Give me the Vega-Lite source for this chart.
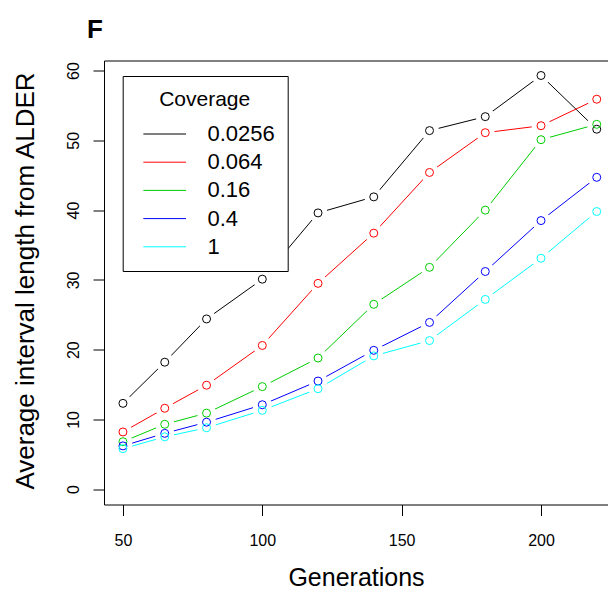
{
  "$schema": "https://vega.github.io/schema/vega-lite/v6.json",
  "autosize": {"type": "none"},
  "padding": {"left": 104, "top": 60.5, "right": 0, "bottom": 85.5},
  "width": 504,
  "height": 444,
  "background": "white",
  "title": {"text": "F", "anchor": "start", "frame": "group", "fontSize": 26, "fontWeight": "bold", "font": "Liberation Sans", "color": "black", "baseline": "alphabetic", "offset": 21.5, "dx": -17, "dy": 25},
  "config": {
    "font": "Liberation Sans",
    "view": {"stroke": null},
    "axis": {"grid": false, "domainColor": "black", "tickColor": "black", "labelColor": "black", "titleColor": "black", "labelFont": "Liberation Sans", "titleFont": "Liberation Sans", "titleFontWeight": "normal", "domainWidth": 1, "tickWidth": 1}
  },
  "data": {"values": [
    {"gen": 50, "coverage": "0.0256", "len": 12.3},
    {"gen": 65, "coverage": "0.0256", "len": 18.2},
    {"gen": 80, "coverage": "0.0256", "len": 24.4},
    {"gen": 100, "coverage": "0.0256", "len": 30.1},
    {"gen": 120, "coverage": "0.0256", "len": 39.6},
    {"gen": 140, "coverage": "0.0256", "len": 41.9},
    {"gen": 160, "coverage": "0.0256", "len": 51.4},
    {"gen": 180, "coverage": "0.0256", "len": 53.4},
    {"gen": 200, "coverage": "0.0256", "len": 59.3},
    {"gen": 220, "coverage": "0.0256", "len": 51.6},
    {"gen": 50, "coverage": "0.064", "len": 8.2},
    {"gen": 65, "coverage": "0.064", "len": 11.6},
    {"gen": 80, "coverage": "0.064", "len": 14.9},
    {"gen": 100, "coverage": "0.064", "len": 20.6},
    {"gen": 120, "coverage": "0.064", "len": 29.5},
    {"gen": 140, "coverage": "0.064", "len": 36.7},
    {"gen": 160, "coverage": "0.064", "len": 45.4},
    {"gen": 180, "coverage": "0.064", "len": 51.1},
    {"gen": 200, "coverage": "0.064", "len": 52.1},
    {"gen": 220, "coverage": "0.064", "len": 55.9},
    {"gen": 50, "coverage": "0.16", "len": 6.8},
    {"gen": 65, "coverage": "0.16", "len": 9.3},
    {"gen": 80, "coverage": "0.16", "len": 10.9},
    {"gen": 100, "coverage": "0.16", "len": 14.7},
    {"gen": 120, "coverage": "0.16", "len": 18.8},
    {"gen": 140, "coverage": "0.16", "len": 26.5},
    {"gen": 160, "coverage": "0.16", "len": 31.8},
    {"gen": 180, "coverage": "0.16", "len": 40.0},
    {"gen": 200, "coverage": "0.16", "len": 50.1},
    {"gen": 220, "coverage": "0.16", "len": 52.3},
    {"gen": 50, "coverage": "0.4", "len": 6.2},
    {"gen": 65, "coverage": "0.4", "len": 8.0},
    {"gen": 80, "coverage": "0.4", "len": 9.6},
    {"gen": 100, "coverage": "0.4", "len": 12.1},
    {"gen": 120, "coverage": "0.4", "len": 15.5},
    {"gen": 140, "coverage": "0.4", "len": 19.9},
    {"gen": 160, "coverage": "0.4", "len": 23.9},
    {"gen": 180, "coverage": "0.4", "len": 31.2},
    {"gen": 200, "coverage": "0.4", "len": 38.5},
    {"gen": 220, "coverage": "0.4", "len": 44.7},
    {"gen": 50, "coverage": "1", "len": 5.8},
    {"gen": 65, "coverage": "1", "len": 7.5},
    {"gen": 80, "coverage": "1", "len": 8.8},
    {"gen": 100, "coverage": "1", "len": 11.3},
    {"gen": 120, "coverage": "1", "len": 14.4},
    {"gen": 140, "coverage": "1", "len": 19.1},
    {"gen": 160, "coverage": "1", "len": 21.3},
    {"gen": 180, "coverage": "1", "len": 27.2},
    {"gen": 200, "coverage": "1", "len": 33.1},
    {"gen": 220, "coverage": "1", "len": 39.8}
  ]},
  "resolve": {"axis": {"x": "independent"}},
  "layer": [
    {
      "mark": {"type": "line", "strokeWidth": 1, "clip": true},
      "encoding": {
        "x": {"field": "gen", "type": "quantitative", "scale": {"domain": [43.2, 224.04], "nice": false, "zero": false},
          "axis": {"orient": "bottom", "values": [50, 100, 150, 200], "title": "Generations", "tickSize": 11, "labelPadding": 29.5, "labelBaseline": "alphabetic", "labelFontSize": 16, "labelFlush": false, "titleFontSize": 25, "titleX": 252, "titleY": 81, "titleBaseline": "alphabetic", "titleAlign": "center"}},
        "y": {"field": "len", "type": "quantitative", "scale": {"domain": [-2.2, 61.45], "nice": false, "zero": false},
          "axis": {"orient": "left", "values": [0, 10, 20, 30, 40, 50, 60], "title": "Average interval length from ALDER", "tickSize": 11, "labelAngle": 270, "labelAlign": "center", "labelBaseline": "alphabetic", "labelPadding": 14.7, "labelFontSize": 16, "labelFlush": false, "titleFontSize": 26, "titleAngle": 270, "titleX": -71, "titleY": 220, "titleBaseline": "alphabetic", "titleAlign": "center"}},
        "color": {"field": "coverage", "type": "nominal",
          "scale": {"domain": ["0.0256", "0.064", "0.16", "0.4", "1"], "range": ["#000000", "#FF0000", "#00CD00", "#0000FF", "#00FFFF"]},
          "legend": {"title": "Coverage", "orient": "none", "legendX": 18.7, "legendY": 15.5, "direction": "vertical", "padding": 13, "strokeColor": "black", "fillColor": "white", "titleFontSize": 21, "titleFontWeight": "normal", "titleColor": "black", "titleAnchor": "middle", "titlePadding": 13, "labelFontSize": 22, "labelColor": "black", "symbolType": "stroke", "symbolSize": 1823, "symbolStrokeWidth": 1, "symbolOffset": 7, "labelOffset": 20.7, "rowPadding": 6.2, "clipHeight": 22}
        }
      }
    },
    {
      "mark": {"type": "point", "filled": true, "fill": "white", "stroke": null, "opacity": 1, "fillOpacity": 1, "size": 361, "strokeWidth": 0},
      "encoding": {
        "x": {"field": "gen", "type": "quantitative", "axis": {"orient": "top", "labels": false, "ticks": false, "title": null, "domainColor": "black"}},
        "y": {"field": "len", "type": "quantitative"}
      }
    },
    {
      "mark": {"type": "point", "filled": false, "size": 64, "strokeWidth": 1, "opacity": 1},
      "encoding": {
        "x": {"field": "gen", "type": "quantitative", "axis": null},
        "y": {"field": "len", "type": "quantitative"},
        "color": {"field": "coverage", "type": "nominal"}
      }
    }
  ]
}
